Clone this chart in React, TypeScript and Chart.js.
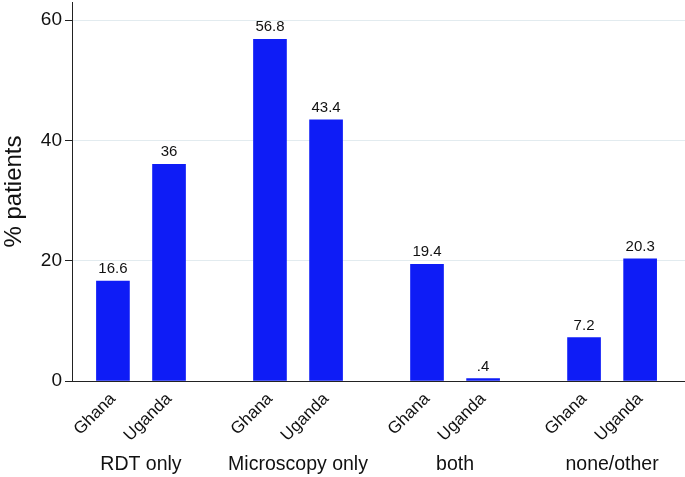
import { useEffect, useRef } from 'react';
import { Chart, registerables } from 'chart.js';

Chart.register(...registerables);

const groups = ['RDT only', 'Microscopy only', 'both', 'none/other'];
const countries = ['Ghana', 'Uganda'];
const ghana = [16.6, 56.8, 19.4, 7.2];
const uganda = [36, 43.4, 0.4, 20.3];
const yTicks = [0, 20, 40, 60];

const FONT = "'Liberation Sans', Arial, Helvetica, sans-serif";
const BLUE = '#0e1cf6';
const INK = '#111111';
const GROUP_STRIDE = 2.8;

const fmt = (v: number) => {
  const s = String(v);
  return s.startsWith('0.') ? s.slice(1) : s;
};

export default function App() {
  const ref = useRef<HTMLCanvasElement>(null);

  useEffect(() => {
    document.body.style.margin = '0';
    const series = [ghana, uganda];
    const points: { x: number; y: number }[] = [];
    const labels: string[] = [];
    const tickNames: string[] = [];
    groups.forEach((_, g) => {
      countries.forEach((c, i) => {
        points.push({ x: 1 + g * GROUP_STRIDE + i, y: series[i][g] });
        labels.push(fmt(series[i][g]));
        tickNames.push(c);
      });
    });

    const valueLabels = {
      id: 'valueLabels',
      afterDatasetsDraw(chart: any) {
        const ctx = chart.ctx;
        const meta = chart.getDatasetMeta(0);
        ctx.save();
        ctx.font = `15px ${FONT}`;
        ctx.fillStyle = INK;
        ctx.textAlign = 'center';
        ctx.textBaseline = 'alphabetic';
        meta.data.forEach((el: any, i: number) => {
          ctx.fillText(labels[i], el.x, el.y - 8);
        });
        ctx.restore();
      },
    };

    const groupLabels = {
      id: 'groupLabels',
      afterDraw(chart: any) {
        const ctx = chart.ctx;
        const xs = chart.scales.x;
        ctx.save();
        ctx.font = `19.5px ${FONT}`;
        ctx.fillStyle = INK;
        ctx.textAlign = 'center';
        ctx.textBaseline = 'alphabetic';
        groups.forEach((name, g) => {
          const cx = xs.getPixelForValue(1 + g * GROUP_STRIDE + 0.5);
          ctx.fillText(name, cx, 470);
        });
        ctx.restore();
      },
    };

    const chart = new Chart(ref.current as HTMLCanvasElement, {
      type: 'bar',
      data: {
        datasets: [
          {
            data: points as any,
            backgroundColor: BLUE,
            borderWidth: 0,
            barThickness: 33,
          },
        ],
      },
      options: {
        animation: false,
        responsive: false,
        layout: { padding: { top: 2, left: 0, right: 0, bottom: 0 } },
        plugins: { legend: { display: false }, tooltip: { enabled: false } },
        scales: {
          x: {
            type: 'linear',
            offset: false,
            min: 0.27,
            max: 11.2,
            grid: { display: false },
            border: { display: true, color: '#222', width: 1 },
            afterBuildTicks: (s: any) => {
              s.ticks = points.map((p) => ({ value: p.x }));
            },
            ticks: {
              autoSkip: false,
              minRotation: 45,
              maxRotation: 45,
              padding: 0,
              color: INK,
              font: { family: FONT, size: 17 },
              callback: (_v: any, i: number) => tickNames[i],
            },
            afterFit: (s: any) => {
              s.height = 96;
              s.paddingLeft = 0;
              s.paddingRight = 0;
            },
          },
          y: {
            min: 0,
            max: 63,
            afterBuildTicks: (s: any) => {
              s.ticks = yTicks.map((v) => ({ value: v }));
            },
            grid: {
              color: '#e2ebef',
              tickColor: '#222',
              tickLength: 7,
              lineWidth: 1,
            },
            border: { display: true, color: '#222', width: 1 },
            ticks: {
              padding: 3,
              color: INK,
              font: { family: FONT, size: 19 },
            },
            title: {
              display: true,
              text: '% patients',
              color: INK,
              font: { family: FONT, size: 24 },
              padding: { top: 0, bottom: 0 },
            },
            afterFit: (s: any) => {
              s.width = 72;
              s.paddingTop = 0;
              s.paddingBottom = 0;
            },
          },
        },
      },
      plugins: [valueLabels, groupLabels],
    });
    return () => chart.destroy();
  }, []);

  return (
    <canvas
      ref={ref}
      width={685}
      height={477}
      style={{ display: 'block', width: 685, height: 477 }}
    />
  );
}
